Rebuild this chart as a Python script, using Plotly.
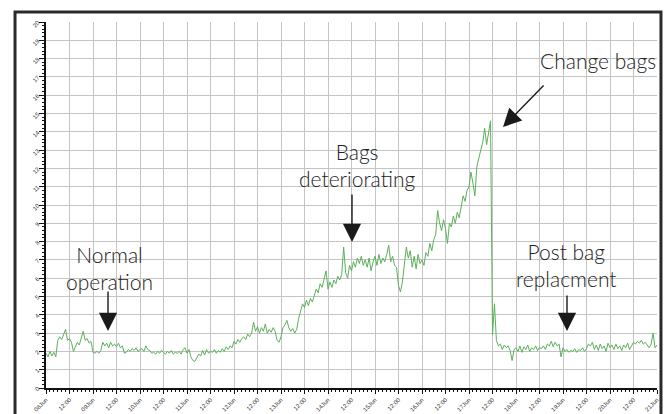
import plotly.graph_objects as go
import pandas as pd

# hourly readings starting 08 Jun 00:00
values = [
    1.9, 1.7, 2.0, 1.75, 1.95, 1.7, 2.6, 2.8, 2.65, 2.95, 3.2, 2.6,
    2.7, 2.5, 2.0, 2.25, 2.5, 2.35, 2.8, 3.1, 2.6, 2.7, 2.45, 2.55,
    1.95, 1.9, 2.0, 1.9, 2.05, 2.5, 2.3, 2.45, 2.2, 2.5, 2.3, 2.4,
    2.25, 2.45, 2.2, 2.3, 1.9, 1.95, 2.1, 2.0, 2.15, 2.05, 2.2, 2.0,
    2.1, 2.15, 2.0, 2.3, 2.1, 2.05, 1.9, 1.95, 1.85, 2.0, 1.9, 2.05,
    1.95, 1.85, 2.0, 1.9, 2.05, 1.85, 1.95, 1.9, 2.0, 1.85, 2.1, 2.2,
    1.9, 2.1, 1.7, 1.5, 1.45, 1.65, 1.85, 1.75, 2.05, 1.8, 2.1, 1.9,
    2.0, 1.95, 2.1, 1.9, 2.05, 1.95, 2.15, 2.0, 2.25, 2.1, 2.3, 2.2,
    2.55, 2.4, 2.65, 2.5, 2.7, 2.8, 2.65, 2.95, 2.8, 3.0, 3.6, 3.1,
    3.35, 3.0, 3.3, 3.1, 3.5, 3.0, 3.2, 3.05, 3.3, 3.1, 2.6, 2.5,
    2.8, 3.3, 3.45, 3.7, 3.3, 3.1, 3.25, 3.0, 3.2, 3.8, 4.2, 4.6,
    4.4, 4.8, 4.5, 4.9, 4.7, 5.0, 5.4, 5.2, 5.7, 5.5, 5.9, 6.4,
    5.4, 5.8, 5.5, 5.9, 5.7, 6.1, 5.9, 6.2, 7.7, 6.3, 6.0, 6.7,
    6.4, 6.9, 6.6, 7.1, 6.8, 7.2, 6.7, 7.0, 6.6, 7.1, 6.4, 6.9,
    7.2, 6.7, 7.3, 6.8, 7.1, 6.9, 7.3, 7.8, 6.9, 7.2, 6.7, 6.6,
    5.6, 5.25, 5.8, 6.9, 7.7, 7.1, 7.5, 6.6, 7.2, 6.5, 7.3, 6.8,
    7.0, 6.7, 7.4, 7.2, 7.9, 7.5, 8.1, 8.4, 9.7, 9.0, 8.6, 9.2,
    8.7, 7.9, 9.0, 8.8, 9.4, 9.0, 9.6, 9.3, 10.0, 10.5, 10.2, 10.8,
    11.0, 11.8, 11.2, 10.5, 12.1, 12.6, 13.0, 13.4, 14.2, 13.3, 13.9, 14.6,
    2.9, 4.6, 2.6, 2.3, 2.4, 2.1, 2.35, 2.2, 2.3, 2.05, 1.5, 2.1,
    2.2, 2.0, 2.3, 1.95, 2.25, 2.1, 2.35, 2.0, 2.2, 2.1, 2.3, 2.05,
    2.2, 2.15, 2.3, 2.1, 2.4, 2.3, 2.55, 2.25, 2.5, 2.3, 2.4, 1.7,
    2.2, 2.0, 2.1, 1.95, 2.05, 2.0, 2.15, 1.95, 2.1, 2.05, 2.2, 2.0,
    2.15, 2.4, 2.3, 2.5, 2.1, 2.35, 2.05, 2.4, 2.15, 2.3, 2.0, 2.45,
    2.2, 2.35, 2.1, 2.4, 2.15, 2.3, 2.05, 2.35, 2.2, 2.45, 2.1, 2.3,
    2.5, 2.4, 2.55, 2.45, 2.6, 2.4, 2.5, 2.35, 2.2, 2.4, 3.0, 2.2, 2.35,
]
start = "2014-06-08 00:00"
times = pd.date_range(start, periods=len(values), freq="h")

x_tick_text = [
    "08Jun", "12:00", "09Jun", "12:00", "10Jun", "12:00", "11Jun", "12:00",
    "12Jun", "12:00", "13Jun", "12:00", "14Jun", "12:00", "15Jun", "12:00",
    "16Jun", "12:00", "17Jun", "12:00", "18Jun", "12:00", "19Jun", "12:00",
    "20Jun", "12:00", "21Jun",
]
x_tick_vals = pd.date_range(start, periods=len(x_tick_text), freq="12h")
y_tick_vals = list(range(0, 21))

fig = go.Figure()
fig.add_trace(go.Scatter(
    x=times, y=values, mode="lines",
    line=dict(color="rgb(92,176,92)", width=1),
    hoverinfo="skip", showlegend=False,
))

tick_font = dict(family="Liberation Sans", size=6, color="#333")
fig.update_xaxes(
    range=[x_tick_vals[0], x_tick_vals[-1]],
    tickmode="array", tickvals=x_tick_vals, ticktext=x_tick_text,
    tickangle=-45, tickfont=tick_font, automargin=False,
    showgrid=True, gridcolor="#c4c4c4", gridwidth=1,
    showline=True, linecolor="#111", linewidth=2,
    ticks="outside", ticklen=4, tickcolor="#111", tickwidth=1,
    minor=dict(dtick=2 * 3600 * 1000, ticks="outside", ticklen=2,
               tickcolor="#111", showgrid=False),
    zeroline=False,
)
fig.update_yaxes(
    range=[0, 20],
    tickmode="array", tickvals=y_tick_vals,
    tickangle=-45, tickfont=tick_font, automargin=False,
    showgrid=True, gridcolor="#c4c4c4", gridwidth=1,
    showline=True, linecolor="#111", linewidth=2,
    ticks="outside", ticklen=5, tickcolor="#111", tickwidth=1,
    minor=dict(dtick=0.2, ticks="outside", ticklen=2.5,
               tickcolor="#111", showgrid=False),
    zeroline=False,
)

ann_font = dict(family="Lato", size=21, color="#222", weight=300)
texts = [
    ("Normal<br>operation", 0.1047, 0.328),
    ("Bags<br>deteriorating", 0.509, 0.609),
    ("Change bags", 0.9034, 0.896),
    ("Post bag<br>replacment", 0.8527, 0.336),
]
for t, xp, yp in texts:
    fig.add_annotation(text=t, x=xp, y=yp, xref="paper", yref="paper",
                       showarrow=False, font=ann_font, xanchor="center",
                       yanchor="middle", align="center")

arrows = [
    (0.1015, 0.1557, 0, -41),
    (0.5008, 0.399, 0, -49),
    (0.748, 0.713, 42, -43),
    (0.8527, 0.1557, 0, -37),
]
for xp, yp, ax, ay in arrows:
    fig.add_annotation(text="", x=xp, y=yp, xref="paper", yref="paper",
                       showarrow=True, ax=ax, ay=ay, arrowhead=2,
                       arrowsize=2.6, arrowwidth=1.4, arrowcolor="#1a1a1a")

# outer frame
fig.add_shape(type="rect", xref="paper", yref="paper",
              x0=-0.0507, x1=1.0065, y0=-0.075, y1=1.027,
              line=dict(color="#2a2a2a", width=3))

# page body has an 8px margin, so the figure is sized/offset to compensate
fig.update_layout(
    width=663, height=406,
    margin=dict(l=38, r=14, t=14, b=26),
    paper_bgcolor="white", plot_bgcolor="white",
)
fig.write_html("out.html")
